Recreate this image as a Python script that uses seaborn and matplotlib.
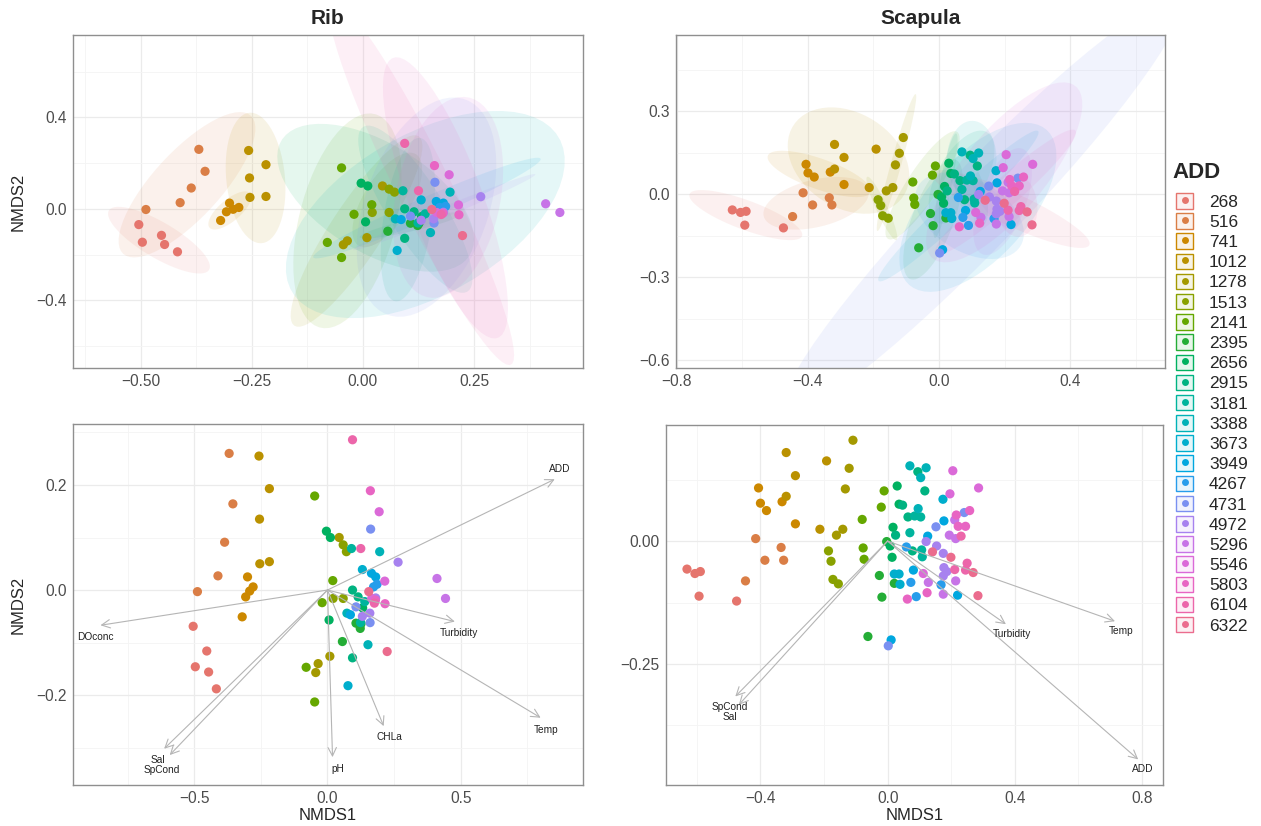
import numpy as np
import pandas as pd
import matplotlib
matplotlib.use("Agg")
import matplotlib.pyplot as plt
from matplotlib.ticker import FuncFormatter
from matplotlib.patches import Patch
from matplotlib.lines import Line2D
from matplotlib.legend_handler import HandlerTuple
import seaborn as sns

# ---------------------------------------------------------------- data
add_levels = ["268", "516", "741", "1012", "1278", "1513", "2141", "2395",
              "2656", "2915", "3181", "3388", "3673", "3949", "4267", "4731",
              "4972", "5296", "5546", "5803", "6104", "6322"]

# Rib: NMDS site scores, grouped by accumulated degree days (ADD)
rib_counts = [5, 5, 5, 5, 4, 4, 5, 4, 4, 3, 3, 3, 2, 3, 2, 3, 4, 2, 3, 3, 3, 2]
rib_nmds1 = [
    -0.504, -0.453, -0.496, -0.446, -0.417,          # 268
    -0.488, -0.411, -0.386, -0.355, -0.369,          # 516
    -0.320, -0.307, -0.292, -0.279, -0.300,          # 741
    -0.257, -0.255, -0.218, -0.254, -0.218,          # 1012
    0.009, -0.035, -0.044, 0.044,                    # 1278
    0.071, 0.059, 0.021, 0.059,                      # 1513
    -0.048, -0.080, -0.048, -0.020, 0.020,           # 2141
    0.056, 0.107, 0.123, 0.126,                      # 2395
    -0.004, 0.011, 0.006, 0.132,                     # 2656
    0.094, 0.094, 0.115,                             # 2915
    0.090, 0.124, 0.140,                             # 3181
    0.196, 0.152, 0.073,                             # 3388
    0.077, 0.131,                                    # 3673
    0.165, 0.181, 0.086,                             # 3949
    0.186, 0.173,                                    # 4267
    0.162, 0.107, 0.160,                             # 4731
    0.265, 0.181, 0.131, 0.159,                      # 4972
    0.411, 0.443,                                    # 5296
    0.194, 0.215, 0.166,                             # 5546
    0.161, 0.180, 0.216,                             # 5803
    0.094, 0.125, 0.176,                             # 6104
    0.155, 0.224,                                    # 6322
]
rib_nmds2 = [
    -0.069, -0.116, -0.146, -0.156, -0.188,
    -0.003, 0.027, 0.091, 0.164, 0.260,
    -0.051, -0.013, -0.002, 0.006, 0.025,
    0.255, 0.135, 0.193, 0.050, 0.054,
    -0.126, -0.140, -0.157, 0.100,
    0.073, 0.086, -0.016, -0.016,
    0.179, -0.147, -0.213, -0.024, 0.018,
    -0.098, -0.063, -0.073, -0.064,
    0.112, 0.100, -0.057, -0.034,
    -0.129, 0.000, -0.013,
    0.079, -0.062, -0.022,
    0.073, -0.104, -0.044,
    -0.182, 0.039,
    0.032, 0.025, -0.047,
    0.011, 0.006,
    0.116, -0.032, -0.062,
    0.053, -0.015, -0.050, -0.044,
    0.022, -0.016,
    0.149, 0.017, -0.016,
    0.189, -0.019, -0.026,
    0.286, 0.079, -0.025,
    -0.003, -0.117,
]

# Scapula: NMDS site scores
scap_counts = [5, 5, 5, 5, 5, 4, 5, 5, 5, 6, 5, 4, 4, 5, 4, 3, 6, 6, 4, 6, 4, 4]
scap_nmds1 = [
    -0.631, -0.606, -0.589, -0.593, -0.475,          # 268
    -0.447, -0.415, -0.386, -0.327, -0.335,          # 516
    -0.381, -0.400, -0.406, -0.332, -0.290,          # 741
    -0.319, -0.290, -0.319, -0.213, -0.192,          # 1012
    -0.161, -0.141, -0.133, -0.121, -0.109,          # 1278
    -0.186, -0.178, -0.172, -0.155,                  # 1513
    -0.080, -0.077, -0.074, -0.020, -0.011,          # 2141
    -0.062, -0.026, -0.018, 0.021, -0.003,           # 2395
    0.030, 0.036, 0.008, 0.014, 0.017,               # 2656
    0.025, 0.047, 0.064, 0.117, 0.095, 0.078,        # 2915
    0.085, 0.104, 0.107, 0.070, 0.109,               # 3181
    0.104, 0.096, 0.121, 0.070,                      # 3388
    0.174, 0.021, 0.036, 0.039,                      # 3673
    0.177, 0.126, 0.081, 0.220, 0.011,               # 3949
    0.059, 0.073, 0.090, 0.168,                      # 4267
    0.152, 0.002, 0.241,                             # 4731
    0.121, 0.154, 0.175, 0.177, 0.186, 0.175,        # 4972
    0.194, 0.214, 0.128, 0.175, 0.214, 0.211,        # 5296
    0.196, 0.205, 0.286, 0.112,                      # 5546
    0.216, 0.222, 0.245, 0.258, 0.062, 0.124,        # 5803
    0.231, 0.245, 0.250, 0.211,                      # 6104
    0.141, 0.199, 0.269, 0.284,                      # 6322
]
scap_nmds2 = [
    -0.057, -0.066, -0.062, -0.112, -0.122,
    -0.081, 0.005, -0.039, -0.039, -0.013,
    0.062, 0.077, 0.108, 0.080, 0.035,
    0.091, 0.133, 0.180, 0.024, 0.163,
    0.012, 0.024, 0.106, 0.148, 0.205,
    -0.020, -0.041, -0.078, -0.087,
    0.044, -0.014, -0.037, 0.069, 0.102,
    -0.194, -0.070, -0.114, -0.086, -0.001,
    0.112, 0.075, -0.010, -0.033, 0.028,
    0.012, 0.073, 0.049, 0.102, 0.141, -0.020,
    0.051, 0.049, -0.018, 0.017, -0.032,
    0.129, 0.066, 0.149, 0.153,
    0.085, -0.067, -0.067, -0.088,
    0.041, 0.010, -0.059, -0.110, -0.201,
    -0.012, -0.084, -0.113, -0.089,
    0.029, -0.213, 0.058,
    -0.001, -0.010, -0.025, -0.054, -0.062, -0.071,
    0.012, 0.005, -0.084, -0.108, -0.081, 0.043,
    0.096, 0.143, 0.108, -0.066,
    0.053, 0.030, 0.030, 0.062, -0.118, -0.105,
    0.010, -0.059, -0.045, -0.058,
    -0.022, -0.033, -0.064, -0.111,
]

# Fitted environmental vectors (envfit arrows)
rib_vec_names = ["ADD", "DOconc", "Turbidity", "Temp", "CHLa", "pH", "Sal", "SpCond"]
rib_vec_x = [0.853, -0.852, 0.478, 0.800, 0.211, 0.019, -0.613, -0.592]
rib_vec_y = [0.211, -0.067, -0.060, -0.243, -0.259, -0.318, -0.302, -0.314]

scap_vec_names = ["Temp", "Turbidity", "ADD", "SpCond", "Sal"]
scap_vec_x = [0.715, 0.372, 0.788, -0.479, -0.468]
scap_vec_y = [-0.163, -0.169, -0.444, -0.316, -0.333]

rib = pd.DataFrame({"ADD": np.repeat(add_levels, rib_counts),
                    "NMDS1": rib_nmds1, "NMDS2": rib_nmds2})
scap = pd.DataFrame({"ADD": np.repeat(add_levels, scap_counts),
                     "NMDS1": scap_nmds1, "NMDS2": scap_nmds2})


# ---------------------------------------------------------------- helpers
def hue_pal(n, h=(15, 375), c=85, l=62):
    """Evenly spaced HCL hues (ggplot-style discrete palette)."""
    hues = np.linspace(h[0], h[1], n + 1)[:-1]
    Xn, Yn, Zn = 95.047, 100.0, 108.883
    den = Xn + 15 * Yn + 3 * Zn
    un, vn = 4 * Xn / den, 9 * Yn / den
    M = np.array([[3.2404542, -1.5371385, -0.4985314],
                  [-0.9692660, 1.8760108, 0.0415560],
                  [0.0556434, -0.2040259, 1.0572252]])
    out = []
    for hh in hues:
        hr = np.deg2rad(hh)
        u, v = c * np.cos(hr), c * np.sin(hr)
        Y = Yn * ((l + 16) / 116) ** 3
        up, vp = u / (13 * l) + un, v / (13 * l) + vn
        X = 9 * Y * up / (4 * vp)
        Z = Y * (12 - 3 * up - 20 * vp) / (4 * vp)
        lin = M @ np.array([X, Y, Z]) / 100
        rgb = np.where(lin <= 0.0031308, 12.92 * lin,
                       1.055 * np.clip(lin, 0, None) ** (1 / 2.4) - 0.055)
        out.append(tuple(np.clip(rgb, 0, 1)))
    return out


def cov_trob(X, nu=5, maxit=25, tol=0.01):
    """Multivariate-t robust location/scatter (as MASS::cov.trob)."""
    n, p = X.shape
    loc = X.mean(axis=0)
    w = np.ones(n)
    Xc = X - loc
    for _ in range(maxit):
        w0 = w
        Xc = X - loc
        A = np.sqrt(w / w.sum())[:, None] * Xc
        _, d, Vt = np.linalg.svd(A, full_matrices=False)
        d = np.maximum(d, 1e-12)
        wX = Xc @ Vt.T @ np.diag(1 / d)
        Q = (wX ** 2).sum(axis=1)
        w = (nu + p) / (nu + Q)
        loc = (w[:, None] * X).sum(axis=0) / w.sum()
        if np.all(np.abs(w - w0) < tol):
            break
    S = np.sqrt(w)[:, None] * Xc
    return loc, S.T @ S / n


def ellipse_points(x, y, level=0.95, segments=61):
    """95% t-based data ellipse of one group (as stat_ellipse)."""
    X = np.column_stack([np.asarray(x, float), np.asarray(y, float)])
    n = len(X)
    if n < 3:
        return None
    center, cov = cov_trob(X)
    w, v = np.linalg.eigh(cov)
    shape = v @ np.diag(np.sqrt(np.clip(w, 0, None)))
    d2 = n - 1
    fq = d2 / 2 * ((1 - level) ** (-2 / d2) - 1)
    radius = np.sqrt(2 * fq)
    t = np.linspace(0, 2 * np.pi, segments)
    circle = np.vstack([np.cos(t), np.sin(t)])
    return center[:, None] + radius * (shape @ circle)


def minus_fmt(dec):
    return FuncFormatter(lambda v, p: f"{v:.{dec}f}".replace("-", "\u2212"))


def style_axes(ax, xt, yt, xdec, ydec, xlim, ylim):
    ax.set_xlim(*xlim)
    ax.set_ylim(*ylim)
    ax.set_xticks(xt)
    ax.set_yticks(yt)
    xs, ys = xt[1] - xt[0], yt[1] - yt[0]
    xm = np.arange(xt[0] - xs / 2, xlim[1], xs)
    ym = np.arange(yt[0] - ys / 2, ylim[1], ys)
    ax.set_xticks(xm[xm > xlim[0]], minor=True)
    ax.set_yticks(ym[ym > ylim[0]], minor=True)
    ax.xaxis.set_major_formatter(minus_fmt(xdec))
    ax.yaxis.set_major_formatter(minus_fmt(ydec))
    ax.set_axisbelow(True)
    ax.grid(which="major", color="#EBEBEB", lw=0.9)
    ax.grid(which="minor", color="#F4F4F4", lw=0.6)
    ax.tick_params(which="major", length=3, width=0.6, color="#333333",
                   labelsize=11.2, labelcolor="#4D4D4D", pad=1.5)
    ax.tick_params(which="minor", length=0)
    for sp in ax.spines.values():
        sp.set_color("#8f8f8f")
        sp.set_linewidth(1.0)
    ax.set_xlabel("")
    ax.set_ylabel("")


# ---------------------------------------------------------------- figure
sns.set_style("white")
plt.rcParams["font.family"] = ["Liberation Sans", "DejaVu Sans"]

colors = hue_pal(len(add_levels))
pal = dict(zip(add_levels, colors))

W, H = 1261, 826
fig = plt.figure(figsize=(W / 100, H / 100), dpi=100)


def box(l, t, r, b):
    return [l / W, 1 - b / H, (r - l) / W, (b - t) / H]


ax_tl = fig.add_axes(box(73, 35, 583, 368))
ax_tr = fig.add_axes(box(676, 35, 1165, 368))
ax_bl = fig.add_axes(box(73, 424, 583, 785))
ax_br = fig.add_axes(box(666, 425, 1163, 785))

point_size = 44


def nmds_panel(ax, df):
    for lev in add_levels:
        sub = df[df["ADD"] == lev]
        e = ellipse_points(sub["NMDS1"], sub["NMDS2"])
        if e is not None:
            ax.fill(e[0], e[1], color=pal[lev], alpha=0.10, lw=0)
    sns.scatterplot(data=df, x="NMDS1", y="NMDS2", hue="ADD", hue_order=add_levels,
                    palette=pal, s=point_size, linewidth=0, ax=ax, legend=False, zorder=3)


def biplot_panel(ax, df, names, vx, vy, nudge):
    sns.scatterplot(data=df, x="NMDS1", y="NMDS2", hue="ADD", hue_order=add_levels,
                    palette=pal, s=point_size, linewidth=0, ax=ax, legend=False, zorder=3)
    for nm, x, y in zip(names, vx, vy):
        ax.annotate("", xy=(x, y), xytext=(0, 0), zorder=4,
                    arrowprops=dict(arrowstyle="->,head_length=0.6,head_width=0.3",
                                    color="#b5b5b5", lw=0.8, shrinkA=0, shrinkB=0,
                                    mutation_scale=10))
        dx, dy = nudge.get(nm, (5, 11))
        ax.annotate(nm, xy=(x, y), xytext=(dx * 0.72, -dy * 0.72),
                    textcoords="offset points", ha="center", va="center",
                    fontsize=7.3, color="#222222", zorder=5)


nmds_panel(ax_tl, rib)
style_axes(ax_tl, [-0.5, -0.25, 0.0, 0.25], [-0.4, 0.0, 0.4], 2, 1,
           (-0.652, 0.495), (-0.696, 0.760))
ax_tl.set_title("Rib", fontsize=15, fontweight="bold", pad=8)
ax_tl.set_ylabel("NMDS2", fontsize=12)

nmds_panel(ax_tr, scap)
style_axes(ax_tr, [-0.8, -0.4, 0.0, 0.4], [-0.6, -0.3, 0.0, 0.3], 1, 1,
           (-0.803, 0.690), (-0.629, 0.576))
ax_tr.set_title("Scapula", fontsize=15, fontweight="bold", pad=8)

biplot_panel(ax_bl, rib, rib_vec_names, rib_vec_x, rib_vec_y,
             {"ADD": (5, -10), "DOconc": (-5, 12), "Turbidity": (4, 11), "Temp": (5, 12),
              "CHLa": (6, 11), "pH": (5, 12), "Sal": (-6, 11), "SpCond": (-8, 15)})
style_axes(ax_bl, [-0.5, 0.0, 0.5], [-0.2, 0.0, 0.2], 1, 1,
           (-0.955, 0.959), (-0.371, 0.316))
ax_bl.set_xlabel("NMDS1", fontsize=12)
ax_bl.set_ylabel("NMDS2", fontsize=12)

biplot_panel(ax_br, scap, scap_vec_names, scap_vec_x, scap_vec_y,
             {"Temp": (6, 10), "Turbidity": (6, 10), "ADD": (5, 10),
              "SpCond": (-6, 11), "Sal": (-9, 12)})
style_axes(ax_br, [-0.4, 0.0, 0.4, 0.8], [-0.25, 0.0], 1, 2,
           (-0.697, 0.866), (-0.496, 0.236))
ax_br.set_xlabel("NMDS1", fontsize=12)

# axis-title placement
for ax in (ax_tl, ax_bl):
    ax.yaxis.set_label_coords((18 - 73) / 510, 0.5)
    ax.yaxis.label.set_va("center")
for ax, (t, b) in ((ax_bl, (424, 785)), (ax_br, (425, 785))):
    ax.xaxis.set_label_coords(0.5, (b - 815) / (b - t))
    ax.xaxis.label.set_va("center")

# legend: ellipse-fill key with the point drawn on top
handles = []
for lev in add_levels:
    c = pal[lev]
    handles.append((Patch(facecolor=(*c, 0.10), edgecolor=c, linewidth=1.0),
                    Line2D([], [], marker="o", color=c, ls="", markersize=5,
                           markeredgewidth=0)))
fig.text(1172 / W, 1 - 172 / H, "ADD", fontsize=16, fontweight="bold",
         ha="left", va="center")
fig.legend(handles, add_levels, loc="upper left",
           bbox_to_anchor=(1176 / W, 1 - 193 / H), frameon=False,
           handler_map={tuple: HandlerTuple(ndivide=1, pad=0)},
           handlelength=1.0, handleheight=1.0, labelspacing=0.2,
           handletextpad=0.9, borderaxespad=0, borderpad=0,
           fontsize=12.5)

fig.savefig("out.png", dpi=100)
